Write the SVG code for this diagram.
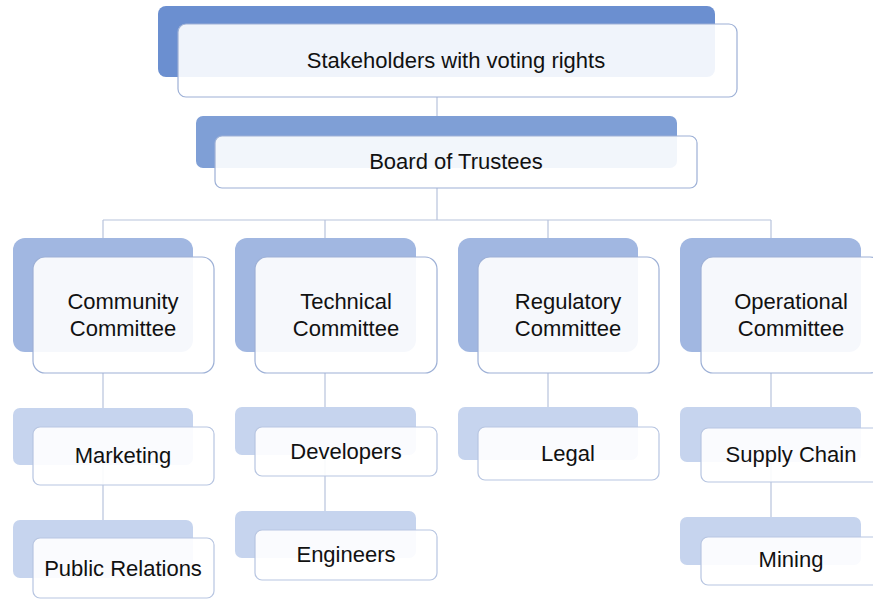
<svg xmlns="http://www.w3.org/2000/svg" width="873" height="602" viewBox="0 0 873 602">
<style>
.l1{fill:#6B8FD0}
.l2{fill:#7F9FD6}
.l3{fill:#A1B7E1}
.l4{fill:#C6D4EE}
.f{fill:#FFFFFF;fill-opacity:0.9;stroke:#9DB0D6;stroke-width:1.2}
.f2{fill:#FFFFFF;fill-opacity:0.9;stroke:#B7C5E1;stroke-width:1.2}
.t{font-family:"Liberation Sans",Arial,sans-serif;font-size:22px;fill:#111111;text-anchor:middle}
.c{stroke:#B8C4DC;stroke-width:1.2;fill:none}
</style>
<rect width="873" height="602" fill="#FFFFFF"/>
<g id="connectors">
<path class="c" d="M437,97 V136 M437,188 V220 M103,220 H771 M103,220 V257 M325,220 V257 M548,220 V257 M771,220 V257"/>
<path class="c" d="M103,373 V538 M325,373 V530 M548,373 V427 M771,373 V537"/>
</g>
<g id="stakeholders">
<rect class="l1" x="158" y="6" width="557" height="71" rx="8"/>
<rect class="f" x="178" y="24" width="559" height="73" rx="8"/>
<text class="t" x="456" y="68">Stakeholders with voting rights</text>
</g>
<g id="board">
<rect class="l2" x="196" y="116" width="481" height="52" rx="7"/>
<rect class="f" x="215" y="136" width="482" height="52" rx="7"/>
<text class="t" x="456" y="169">Board of Trustees</text>
</g>
<g id="community">
<rect class="l3" x="13" y="238" width="180" height="114" rx="12"/>
<rect class="f" x="33" y="257" width="181" height="116" rx="12"/>
<text class="t" x="123" y="309">Community</text>
<text class="t" x="123" y="336">Committee</text>
</g>
<g id="technical">
<rect class="l3" x="235" y="238" width="181" height="114" rx="12"/>
<rect class="f" x="255" y="257" width="182" height="116" rx="12"/>
<text class="t" x="346" y="309">Technical</text>
<text class="t" x="346" y="336">Committee</text>
</g>
<g id="regulatory">
<rect class="l3" x="458" y="238" width="180" height="114" rx="12"/>
<rect class="f" x="478" y="257" width="181" height="116" rx="12"/>
<text class="t" x="568" y="309">Regulatory</text>
<text class="t" x="568" y="336">Committee</text>
</g>
<g id="operational">
<rect class="l3" x="680" y="238" width="181" height="114" rx="12"/>
<rect class="f" x="701" y="257" width="181" height="116" rx="12"/>
<text class="t" x="791" y="309">Operational</text>
<text class="t" x="791" y="336">Committee</text>
</g>
<g id="marketing">
<rect class="l4" x="13" y="408" width="180" height="57" rx="7"/>
<rect class="f2" x="33" y="427" width="181" height="58" rx="7"/>
<text class="t" x="123" y="463">Marketing</text>
</g>
<g id="public-relations">
<rect class="l4" x="13" y="520" width="180" height="58" rx="7"/>
<rect class="f2" x="33" y="538" width="181" height="60" rx="7"/>
<text class="t" x="123" y="576">Public Relations</text>
</g>
<g id="developers">
<rect class="l4" x="235" y="407" width="181" height="48" rx="7"/>
<rect class="f2" x="255" y="427" width="182" height="49" rx="7"/>
<text class="t" x="346" y="459">Developers</text>
</g>
<g id="engineers">
<rect class="l4" x="235" y="511" width="181" height="47" rx="7"/>
<rect class="f2" x="255" y="530" width="182" height="50" rx="7"/>
<text class="t" x="346" y="562">Engineers</text>
</g>
<g id="legal">
<rect class="l4" x="458" y="407" width="180" height="53" rx="7"/>
<rect class="f2" x="478" y="427" width="181" height="53" rx="7"/>
<text class="t" x="568" y="461">Legal</text>
</g>
<g id="supply-chain">
<rect class="l4" x="680" y="407" width="181" height="55" rx="7"/>
<rect class="f2" x="701" y="428" width="181" height="54" rx="7"/>
<text class="t" x="791" y="462">Supply Chain</text>
</g>
<g id="mining">
<rect class="l4" x="680" y="517" width="181" height="48" rx="7"/>
<rect class="f2" x="701" y="537" width="181" height="48" rx="7"/>
<text class="t" x="791" y="567">Mining</text>
</g>
</svg>
